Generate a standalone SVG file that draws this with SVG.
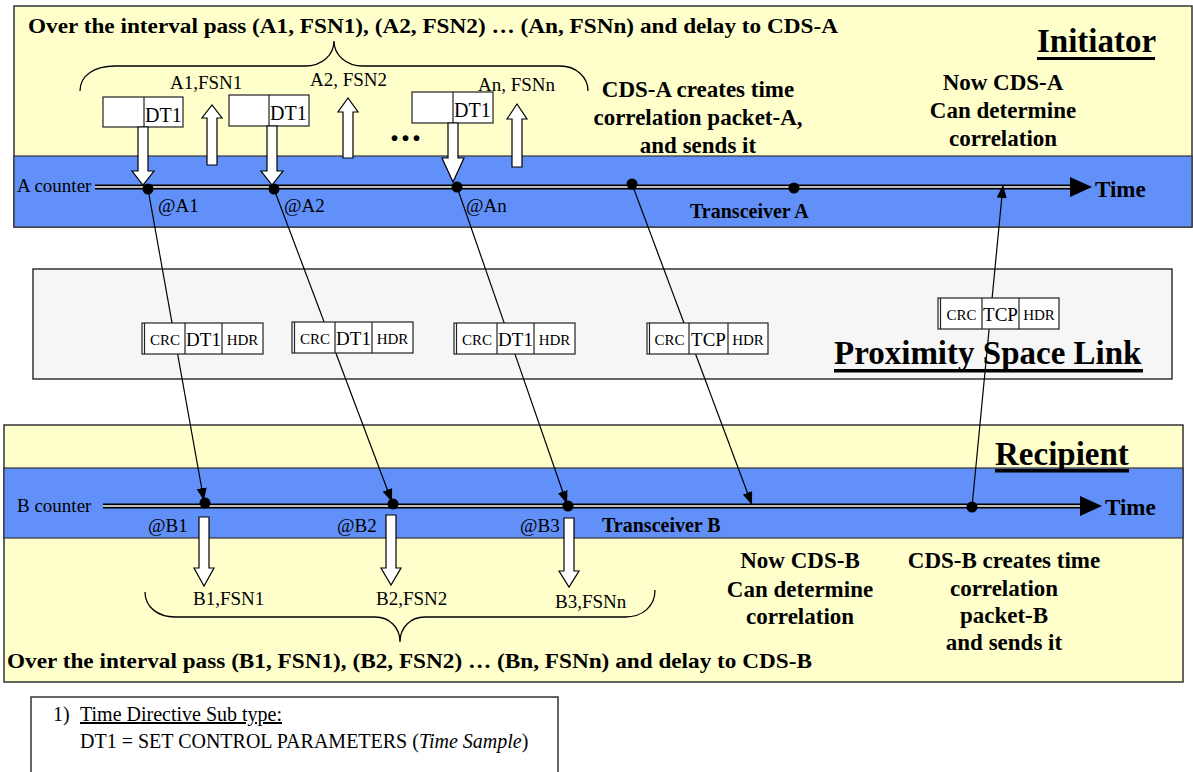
<svg xmlns="http://www.w3.org/2000/svg" width="1193" height="772" viewBox="0 0 1193 772">
<style>
text{font-family:"Liberation Serif","Times New Roman",serif;fill:#000}
.b{font-weight:bold}
.lbl{font-size:19px}
.call{font-size:23px;font-weight:bold;text-anchor:middle}
.title{font-size:33px;font-weight:bold}
.yel{fill:#FFFFCC;stroke:#333;stroke-width:1.5}
.blue{fill:#6190F9;stroke:#333;stroke-width:1.2}
.blk{fill:#fff;stroke:#000;stroke-width:1.2}
.box{fill:#fff;stroke:#222;stroke-width:1.2}
.cell{stroke:#222;stroke-width:1.2}
.conn{stroke:#000;stroke-width:1.2;fill:none;marker-end:url(#ah)}
.brace{stroke:#000;stroke-width:1.3;fill:none}
.pk{font-size:15px;text-anchor:middle}
.pkb{font-size:19px;text-anchor:middle}
.leg{font-size:20px}
</style>
<defs>
<marker id="ah" viewBox="0 0 13 10" refX="13" refY="5" markerWidth="13" markerHeight="10" orient="auto" markerUnits="userSpaceOnUse"><path d="M0,0 L13,5 L0,10 z" fill="#000"/></marker>
</defs>

<!-- Initiator panel -->
<g id="initiator">
<rect class="yel" x="14" y="6" width="1178" height="221"/>
<rect class="blue" x="14" y="156" width="1178" height="71"/>
<text class="b" x="28" y="33" font-size="22" textLength="810" lengthAdjust="spacingAndGlyphs">Over the interval pass (A1, FSN1), (A2, FSN2) … (An, FSNn) and delay to CDS-A</text>
<path class="brace" d="M80,91 C80,75 95,66 115,66 L305,66 C322,66 334,55 334,41 C334,55 346,66 363,66 L560,66 C576,66 588,77 588,91"/>
<text class="title" x="1037" y="52">Initiator</text>
<rect x="1037" y="57" width="118" height="3" fill="#000"/>
<text class="call" x="698" y="97">CDS-A creates time</text>
<text class="call" x="698" y="125">correlation packet-A,</text>
<text class="call" x="698" y="153">and sends it</text>
<text class="call" x="1003" y="90">Now CDS-A</text>
<text class="call" x="1003" y="118">Can determine</text>
<text class="call" x="1003" y="146">correlation</text>
<text class="lbl" x="170" y="89">A1,FSN1</text>
<text class="lbl" x="310" y="86">A2, FSN2</text>
<text class="lbl" x="478" y="91">An, FSNn</text>
<text class="b" x="390" y="141" font-size="36" letter-spacing="2">...</text>
<text class="lbl" x="17" y="192">A counter</text>
<text class="lbl" x="158" y="212">@A1</text>
<text class="lbl" x="284" y="212">@A2</text>
<text class="lbl" x="466" y="212">@An</text>
<text class="b" x="690" y="218" font-size="20">Transceiver A</text>
<text class="b" x="1095" y="197" font-size="23">Time</text>
</g>

<g id="timeline-a">
<line x1="95" y1="187" x2="1072" y2="187" stroke="#000" stroke-width="5"/>
<line x1="95" y1="187" x2="1072" y2="187" stroke="#fff" stroke-width="1.6"/>
<path d="M1070,177 L1092,187 L1070,197 z" fill="#000"/>
</g>

<g id="dt1-box-1">
<rect class="box" x="103" y="97" width="80" height="30"/>
<line class="cell" x1="144" y1="97" x2="144" y2="127"/>
<text x="145" y="122" font-size="20">DT1</text>
</g>
<g id="dt1-box-2">
<rect class="box" x="229" y="95" width="80" height="31"/>
<line class="cell" x1="269" y1="95" x2="269" y2="126"/>
<text x="270" y="120" font-size="20">DT1</text>
</g>
<g id="dt1-box-3">
<rect class="box" x="412" y="92" width="81" height="31"/>
<line class="cell" x1="453" y1="92" x2="453" y2="123"/>
<text x="454" y="117" font-size="20">DT1</text>
</g>

<g id="block-arrows-a">
<path class="blk" d="M138,127 L148,127 L148,171 L154,171 L143,185 L132,171 L138,171 Z"/>
<path class="blk" d="M267,126 L277,126 L277,171 L283,171 L272,185 L261,171 L267,171 Z"/>
<path class="blk" d="M448,123 L458,123 L458,158 L464,158 L453,182 L442,158 L448,158 Z"/>
<path class="blk" d="M207,165 L217,165 L217,118 L222,118 L212,105 L202,118 L207,118 Z"/>
<path class="blk" d="M343,158 L353,158 L353,112 L358,112 L348,98 L338,112 L343,112 Z"/>
<path class="blk" d="M512,167 L522,167 L522,119 L527,119 L517,104 L507,119 L512,119 Z"/>
</g>

<!-- Proximity link panel -->
<g id="proximity-link">
<rect x="33" y="269" width="1139" height="110" fill="#F6F6F6" stroke="#333" stroke-width="1.5"/>
<text class="title" x="834" y="364">Proximity Space Link</text>
<rect x="834" y="369" width="309" height="3.5" fill="#000"/>
</g>

<!-- Recipient panel -->
<g id="recipient">
<rect class="yel" x="4" y="425" width="1179" height="257"/>
<rect class="blue" x="4" y="468" width="1179" height="70"/>
<text class="title" x="995" y="465">Recipient</text>
<rect x="995" y="469" width="134" height="3.5" fill="#000"/>
<text class="lbl" x="17" y="512">B counter</text>
<text class="lbl" x="148" y="532">@B1</text>
<text class="lbl" x="337" y="532">@B2</text>
<text class="lbl" x="520" y="532">@B3</text>
<text class="b" x="602" y="532" font-size="20">Transceiver B</text>
<text class="b" x="1105" y="515" font-size="23">Time</text>
<text class="lbl" x="193" y="605">B1,FSN1</text>
<text class="lbl" x="376" y="605">B2,FSN2</text>
<text class="lbl" x="555" y="608">B3,FSNn</text>
<path class="brace" d="M145,592 C145,607 158,617 175,617 L375,617 C390,617 400,628 400,642 C400,628 410,617 425,617 L625,617 C642,617 655,607 655,590"/>
<text class="call" x="800" y="568">Now CDS-B</text>
<text class="call" x="800" y="597">Can determine</text>
<text class="call" x="800" y="624">correlation</text>
<text class="call" x="1004" y="568">CDS-B creates time</text>
<text class="call" x="1004" y="596">correlation</text>
<text class="call" x="1004" y="623">packet-B</text>
<text class="call" x="1004" y="650">and sends it</text>
<text class="b" x="7" y="668" font-size="22" textLength="805" lengthAdjust="spacingAndGlyphs">Over the interval pass (B1, FSN1), (B2, FSN2) … (Bn, FSNn) and delay to CDS-B</text>
</g>

<g id="timeline-b">
<line x1="103" y1="506" x2="1082" y2="506" stroke="#000" stroke-width="5"/>
<line x1="103" y1="506" x2="1082" y2="506" stroke="#fff" stroke-width="1.6"/>
<path d="M1080,496 L1102,506 L1080,516 z" fill="#000"/>
</g>

<g id="block-arrows-b">
<path class="blk" d="M199,517 L209,517 L209,568 L214,568 L204,586 L194,568 L199,568 Z"/>
<path class="blk" d="M386,515 L396,515 L396,568 L401,568 L391,585 L381,568 L386,568 Z"/>
<path class="blk" d="M564,518 L574,518 L574,571 L579,571 L569,587 L559,571 L564,571 Z"/>
</g>

<!-- connectors -->
<g id="connectors">
<line class="conn" x1="148" y1="189" x2="204" y2="501"/>
<line class="conn" x1="274" y1="189" x2="392" y2="502"/>
<line class="conn" x1="457" y1="187" x2="567" y2="504"/>
<line class="conn" x1="632" y1="184" x2="752" y2="505"/>
<line class="conn" x1="972" y1="507" x2="1003" y2="185"/>
</g>

<!-- packets in link -->
<g id="packet-1">
<rect class="box" x="142" y="323" width="121" height="31"/>
<line class="cell" x1="144.5" y1="323" x2="144.5" y2="354"/>
<line class="cell" x1="185" y1="323" x2="185" y2="354"/>
<line class="cell" x1="222" y1="323" x2="222" y2="354"/>
<text class="pk" x="165" y="345">CRC</text>
<text class="pkb" x="203.5" y="346">DT1</text>
<text class="pk" x="242.5" y="345">HDR</text>
</g>
<g id="packet-2">
<rect class="box" x="292" y="322" width="121" height="31"/>
<line class="cell" x1="294.5" y1="322" x2="294.5" y2="353"/>
<line class="cell" x1="335" y1="322" x2="335" y2="353"/>
<line class="cell" x1="372" y1="322" x2="372" y2="353"/>
<text class="pk" x="315" y="344">CRC</text>
<text class="pkb" x="353.5" y="345">DT1</text>
<text class="pk" x="392.5" y="344">HDR</text>
</g>
<g id="packet-3">
<rect class="box" x="454" y="323" width="121" height="31"/>
<line class="cell" x1="456.5" y1="323" x2="456.5" y2="354"/>
<line class="cell" x1="497" y1="323" x2="497" y2="354"/>
<line class="cell" x1="534" y1="323" x2="534" y2="354"/>
<text class="pk" x="477" y="345">CRC</text>
<text class="pkb" x="515.5" y="346">DT1</text>
<text class="pk" x="554.5" y="345">HDR</text>
</g>
<g id="packet-4">
<rect class="box" x="647" y="323" width="121" height="31"/>
<line class="cell" x1="649.5" y1="323" x2="649.5" y2="354"/>
<line class="cell" x1="689" y1="323" x2="689" y2="354"/>
<line class="cell" x1="728" y1="323" x2="728" y2="354"/>
<text class="pk" x="669.5" y="345">CRC</text>
<text class="pkb" x="708.5" y="346">TCP</text>
<text class="pk" x="748" y="345">HDR</text>
</g>
<g id="packet-5">
<rect class="box" x="938" y="298" width="121" height="31"/>
<line class="cell" x1="940.5" y1="298" x2="940.5" y2="329"/>
<line class="cell" x1="982" y1="298" x2="982" y2="329"/>
<line class="cell" x1="1019" y1="298" x2="1019" y2="329"/>
<text class="pk" x="961.5" y="320">CRC</text>
<text class="pkb" x="1000.5" y="321">TCP</text>
<text class="pk" x="1039" y="320">HDR</text>
</g>

<!-- dots -->
<g id="events" fill="#000">
<circle cx="148" cy="189" r="5.5"/>
<circle cx="274" cy="189" r="5.5"/>
<circle cx="457" cy="187" r="5.5"/>
<circle cx="632" cy="184" r="5.5"/>
<circle cx="794" cy="188" r="5.5"/>
<circle cx="205" cy="503" r="5.5"/>
<circle cx="393" cy="504" r="5.5"/>
<circle cx="568" cy="506" r="5.5"/>
<circle cx="972" cy="507" r="5.5"/>
</g>

<g id="legend">
<rect x="31" y="697" width="527" height="90" fill="#fff" stroke="#333" stroke-width="1.5"/>
<text class="leg" x="53" y="721">1)</text>
<text class="leg" x="80" y="721" text-decoration="underline">Time Directive Sub type:</text>
<text class="leg" x="80" y="748">DT1 = SET CONTROL PARAMETERS (<tspan font-style="italic">Time Sample</tspan>)</text>
</g>
</svg>
